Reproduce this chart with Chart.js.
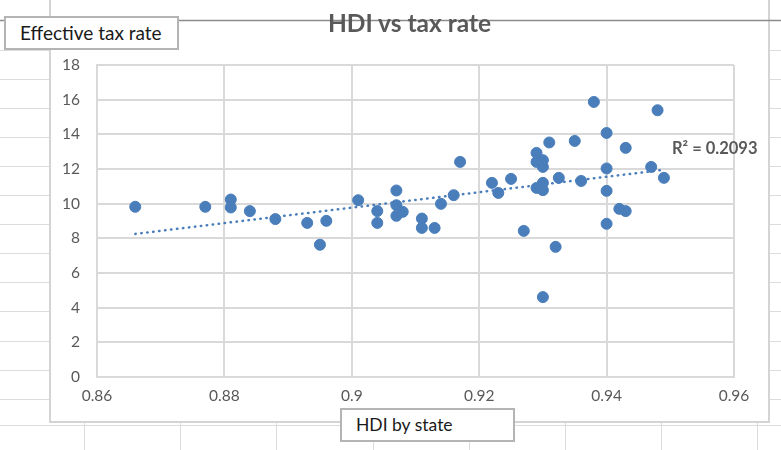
<!DOCTYPE html>
<html>
<head>
<meta charset="utf-8">
<script src="https://cdn.jsdelivr.net/npm/chart.js@4.4.1/dist/chart.umd.min.js"></script>
<style>
    body { margin: 0; background: #fff; }
    #wrap { position: relative; width: 781px; height: 450px; overflow: hidden; font-family: Lato, sans-serif; }
    canvas { position: absolute; left: 0; top: 0; }
    .title { position: absolute; left: 300px; width: 219px; top: 8px; text-align: center; font-weight: bold; font-size: 24.5px; color: #595959; }
    .axis-box { position: absolute; background: #fff; border: 2px solid #b4b4b4; box-sizing: border-box; color: #1a1a1a; line-height: 29px; padding-left: 14px; }
    .r2 { position: absolute; left: 672px; top: 138px; font-weight: bold; font-size: 16.5px; color: #595959; }
</style>
</head>
<body>
<div id="wrap">
    <canvas id="chart" width="781" height="450"></canvas>
    <div class="title">HDI vs tax rate</div>
    <div class="axis-box" style="left:4px; top:16px; width:175px; height:34px; font-size:19px;">Effective tax rate</div>
    <div class="axis-box" style="left:340px; top:408px; width:175px; height:34px; font-size:17.5px;">HDI by state</div>
    <div class="r2" id="r2"></div>
</div>
<script>
// values
const hdi = [0.866, 0.877, 0.881, 0.881, 0.884, 0.888, 0.893, 0.896, 0.895, 0.901,
    0.904, 0.904, 0.907, 0.907, 0.907, 0.908, 0.911, 0.911, 0.913, 0.914,
    0.916, 0.917, 0.922, 0.923, 0.925, 0.927, 0.929, 0.929, 0.930, 0.930,
    0.931, 0.929, 0.930, 0.930, 0.932, 0.930, 0.9325, 0.938, 0.948, 0.940,
    0.935, 0.943, 0.940, 0.947, 0.936, 0.949, 0.940, 0.942, 0.943, 0.940];
const taxRate = [9.82, 9.82, 10.24, 9.78, 9.57, 9.11, 8.89, 9.01, 7.63, 10.2,
    9.57, 8.89, 10.76, 9.91, 9.3, 9.53, 9.14, 8.6, 8.6, 9.99,
    10.49, 12.41, 11.2, 10.62, 11.43, 8.43, 12.93, 12.41, 12.51, 12.12,
    13.53, 10.91, 11.2, 10.78, 7.51, 4.61, 11.49, 15.87, 15.39, 14.08,
    13.62, 13.22, 12.03, 12.12, 11.31, 11.49, 10.74, 9.7, 9.57, 8.84];
const xTicks = [0.86, 0.88, 0.9, 0.92, 0.94, 0.96];
const yTicks = [0, 2, 4, 6, 8, 10, 12, 14, 16, 18];
const r2Label = 'R² = 0.2093';

const dotColor = '#4a7ebb';
const gridColor = '#d9d9d9';
const tickColor = '#595959';

document.getElementById('r2').textContent = r2Label;

// linear trendline (least squares) over the data
function fitLine(xs, ys) {
    const n = xs.length;
    const mx = xs.reduce((a, b) => a + b, 0) / n;
    const my = ys.reduce((a, b) => a + b, 0) / n;
    let sxy = 0, sxx = 0;
    xs.forEach((x, i) => { sxy += (x - mx) * (ys[i] - my); sxx += (x - mx) * (x - mx); });
    const slope = sxy / sxx;
    return x => my + slope * (x - mx);
}
const trend = fitLine(hdi, taxRate);
const xMin = Math.min(...hdi), xMax = Math.max(...hdi);

// spreadsheet cells behind the chart object
const sheetBackground = {
    id: 'sheetBackground',
    beforeDraw(chart) {
        const ctx = chart.ctx;
        ctx.save();
        ctx.fillStyle = '#fff';
        ctx.fillRect(0, 0, chart.width, chart.height);
        ctx.strokeStyle = '#dcdcdc';
        ctx.lineWidth = 1;
        for (let y = 49.5; y < 420; y += 29.1) {
            ctx.beginPath();
            ctx.moveTo(0, Math.round(y) + 0.5);
            ctx.lineTo(chart.width, Math.round(y) + 0.5);
            ctx.stroke();
        }
        ctx.beginPath();
        ctx.moveTo(0, 425.5); ctx.lineTo(chart.width, 425.5);
        ctx.stroke();
        for (let x = 84; x < chart.width; x += 96.2) {
            ctx.beginPath();
            ctx.moveTo(Math.round(x) + 0.5, 423);
            ctx.lineTo(Math.round(x) + 0.5, chart.height);
            ctx.stroke();
        }
        // chart object frame
        ctx.fillStyle = '#fff';
        ctx.fillRect(50, -5, 719, 427);
        ctx.strokeStyle = '#d4d4d4';
        ctx.lineWidth = 2;
        ctx.strokeRect(50, -5, 719, 427);
        ctx.restore();
    },
    afterDraw(chart) {
        const ctx = chart.ctx;
        ctx.save();
        ctx.strokeStyle = '#8c8c8c';
        ctx.lineWidth = 1.5;
        ctx.beginPath();
        ctx.moveTo(0, 20.5);
        ctx.lineTo(chart.width, 20.5);
        ctx.stroke();
        ctx.restore();
    }
};

new Chart(document.getElementById('chart').getContext('2d'), {
    type: 'scatter',
    data: {
        datasets: [{
            label: 'Trend',
            data: [{ x: xMin, y: trend(xMin) }, { x: xMax, y: trend(xMax) }],
            showLine: true,
            borderColor: dotColor,
            borderWidth: 2.5,
            borderDash: [0.5, 5.5],
            borderCapStyle: 'round',
            pointRadius: 0,
            fill: false
        }, {
            label: 'Effective tax rate',
            data: hdi.map((x, i) => ({ x: x, y: taxRate[i] })),
            backgroundColor: dotColor,
            borderColor: dotColor,
            borderWidth: 1,
            pointRadius: 5.5
        }]
    },
    options: {
        responsive: false,
        animation: false,
        layout: { padding: { left: 0, top: 65, right: 47, bottom: 0 } },
        plugins: {
            legend: { display: false },
            tooltip: { enabled: false }
        },
        scales: {
            x: {
                type: 'linear',
                min: 0.86,
                max: 0.96,
                afterFit: s => { s.height = 73; },
                afterBuildTicks: s => { s.ticks = xTicks.map(v => ({ value: v })); },
                grid: { color: gridColor, lineWidth: 2, drawTicks: false },
                border: { color: gridColor, width: 2 },
                ticks: {
                    color: tickColor,
                    padding: 10,
                    font: { family: 'Lato', size: 15.5 },
                    callback: v => String(Number(v.toFixed(2)))
                }
            },
            y: {
                min: 0,
                max: 18,
                afterFit: s => { s.width = 97; },
                afterBuildTicks: s => { s.ticks = yTicks.map(v => ({ value: v })); },
                grid: { color: gridColor, lineWidth: 2, drawTicks: false },
                border: { color: gridColor, width: 2 },
                ticks: {
                    color: tickColor,
                    padding: 17,
                    font: { family: 'Lato', size: 15.5 }
                }
            }
        }
    },
    plugins: [sheetBackground]
});
</script>
</body>
</html>
